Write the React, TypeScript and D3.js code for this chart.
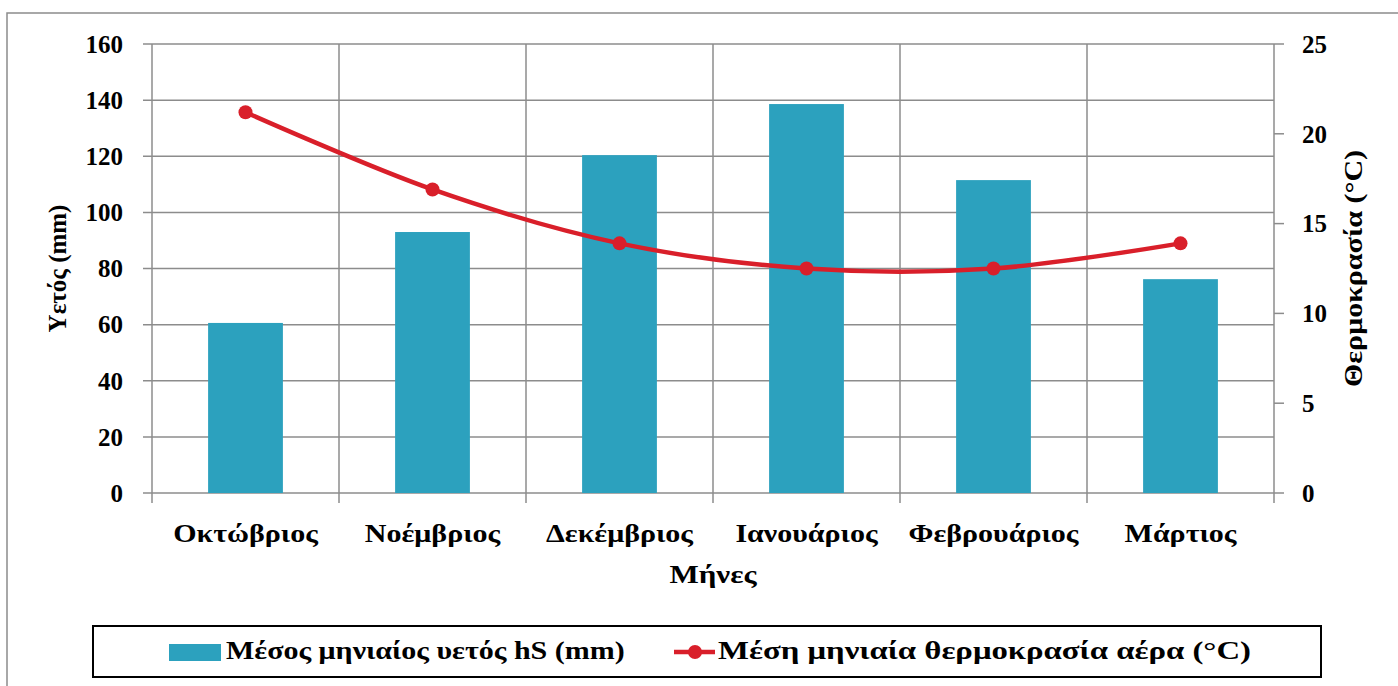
import React from "react";
import * as d3 from "d3";

const months = ["Οκτώβριος", "Νοέμβριος", "Δεκέμβριος", "Ιανουάριος", "Φεβρουάριος", "Μάρτιος"];
const rainfall = [60.6, 93.0, 120.4, 138.6, 111.5, 76.2];
const temperature = [21.2, 16.9, 13.9, 12.5, 12.5, 13.9];
const leftTicks = [0, 20, 40, 60, 80, 100, 120, 140, 160];
const rightTicks = [0, 5, 10, 15, 20, 25];
const barLabel = "Μέσος μηνιαίος υετός hS (mm)";
const lineLabel = "Μέση μηνιαία θερμοκρασία αέρα (°C)";

const W = 1398, H = 686;
const plot = { left: 152, right: 1274, top: 44, bottom: 493 };
const BAR = "#2CA1BE";
const RED = "#D91F2A";
const GRID = "#8C8C8C";
const FONT = "'Liberation Serif', 'DejaVu Serif', serif";

function WideText(props: { x: number; y: number; sx: number; anchor?: string; rotate?: number; children: React.ReactNode }) {
  const { x, y, sx, anchor = "start", rotate = 0, children } = props;
  return (
    <text
      transform={`translate(${x},${y}) rotate(${rotate}) scale(${sx},1)`}
      textAnchor={anchor}
      fontSize={25}
      fontWeight="bold"
      fill="#000"
    >
      {children}
    </text>
  );
}

export default function App() {
  const x = d3.scaleBand<string>().domain(months).range([plot.left, plot.right]).paddingInner(0).paddingOuter(0);
  const yL = d3.scaleLinear().domain([0, 160]).range([plot.bottom, plot.top]);
  const yR = d3.scaleLinear().domain([0, 25]).range([plot.bottom, plot.top]);
  const bw = x.bandwidth();
  const barW = bw * 0.4;
  const cx = (m: string) => (x(m) as number) + bw / 2;
  const line = d3.line<number>()
    .x((_, i) => cx(months[i]))
    .y((d) => yR(d))
    .curve(d3.curveCardinal.tension(0));
  const boundaries = months.map((m) => x(m) as number).concat([plot.right]);

  return (
    <svg width={W} height={H} style={{ position: "absolute", left: 0, top: 0, background: "#fff" }} fontFamily={FONT}>
      <rect x={7} y={13} width={W} height={H} fill="#fff" stroke="#8C8C8C" strokeWidth={1.5} />
      {leftTicks.map((t) => (
        <line key={"h" + t} x1={plot.left - 9} x2={plot.right} y1={yL(t)} y2={yL(t)} stroke={GRID} strokeWidth={1.5} />
      ))}
      {boundaries.map((b, i) => (
        <line key={"v" + i} x1={b} x2={b} y1={plot.top} y2={plot.bottom + 10} stroke={GRID} strokeWidth={1.5} />
      ))}
      {rightTicks.map((t) => (
        <line key={"r" + t} x1={plot.right} x2={plot.right + 10} y1={yR(t)} y2={yR(t)} stroke={GRID} strokeWidth={1.5} />
      ))}
      {months.map((m, i) => (
        <rect key={"b" + m} x={cx(m) - barW / 2} y={yL(rainfall[i])} width={barW} height={plot.bottom - yL(rainfall[i])} fill={BAR} />
      ))}
      <path d={line(temperature) || ""} fill="none" stroke={RED} strokeWidth={4.5} />
      {temperature.map((t, i) => (
        <circle key={"c" + i} cx={cx(months[i])} cy={yR(t)} r={7} fill={RED} />
      ))}
      {leftTicks.map((t) => (
        <text key={"lt" + t} x={123} y={yL(t)} dy="0.35em" textAnchor="end" fontSize={25} fontWeight="bold" fill="#000">{t}</text>
      ))}
      {rightTicks.map((t) => (
        <text key={"rt" + t} x={1302} y={yR(t)} dy="0.35em" textAnchor="start" fontSize={25} fontWeight="bold" fill="#000">{t}</text>
      ))}
      {months.map((m) => (
        <WideText key={"xl" + m} x={cx(m)} y={542} sx={1.2} anchor="middle">{m}</WideText>
      ))}
      <WideText x={(plot.left + plot.right) / 2} y={583} sx={1.24} anchor="middle">Μήνες</WideText>
      <WideText x={66} y={(plot.top + plot.bottom) / 2} sx={1.0} rotate={-90} anchor="middle">Υετός (mm)</WideText>
      <WideText x={1362} y={(plot.top + plot.bottom) / 2} sx={1.2} rotate={-90} anchor="middle">Θερμοκρασία (°C)</WideText>
      <rect x={93} y={626} width={1228} height={51} fill="#fff" stroke="#000" strokeWidth={2} />
      <rect x={169} y={644} width={52} height={17} fill={BAR} />
      <WideText x={226} y={659} sx={1.2}>{barLabel}</WideText>
      <line x1={674} x2={715} y1={652} y2={652} stroke={RED} strokeWidth={4.5} />
      <circle cx={695} cy={652} r={7} fill={RED} />
      <WideText x={718} y={659} sx={1.31}>{lineLabel}</WideText>
    </svg>
  );
}
